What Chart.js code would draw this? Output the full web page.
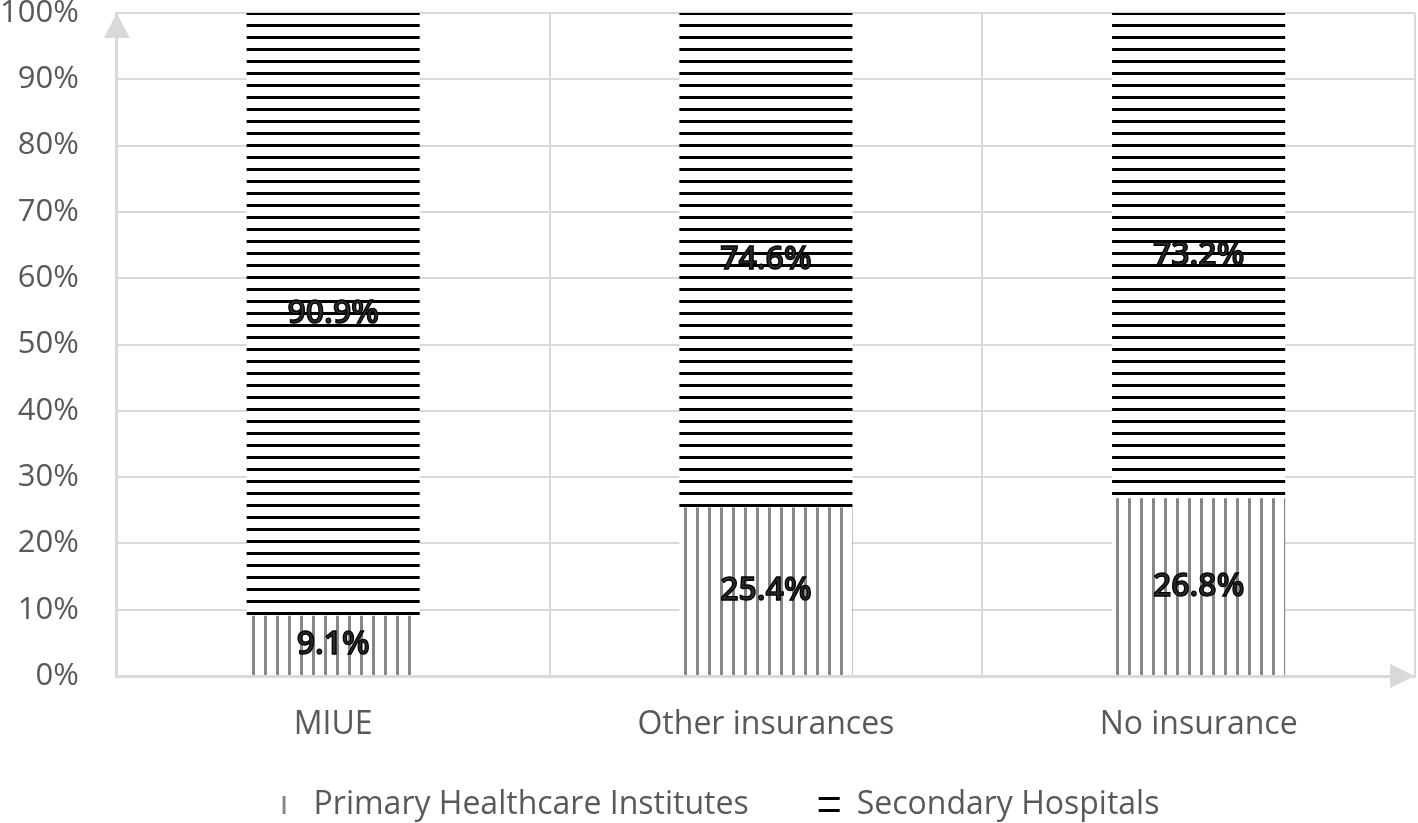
<!DOCTYPE html>
<html>
<head>
<meta charset="utf-8">
<script src="https://cdn.jsdelivr.net/npm/chart.js@4/dist/chart.umd.min.js"></script>
<style>
    html, body { margin: 0; padding: 0; background: #fff; }
    #wrap { width: 1418px; height: 823px; }
</style>
</head>
<body>
<div id="wrap"><canvas id="chart"></canvas></div>
<script>
const categories = ['MIUE', 'Other insurances', 'No insurance'];
const primaryValues = [9.1, 25.4, 26.8];
const secondaryValues = [90.9, 74.6, 73.2];
const yTicks = [0, 10, 20, 30, 40, 50, 60, 70, 80, 90, 100];

const FONT = '"Open Sans", "Noto Sans", sans-serif';
const GRID = '#d9d9d9';
const TEXT = '#595959';
const MARK_W = 42;

// pattern tiles
function makeTile(w, h, draw) {
    const c = document.createElement('canvas');
    c.width = w;
    c.height = h;
    const g = c.getContext('2d');
    g.fillStyle = '#fff';
    g.fillRect(0, 0, w, h);
    draw(g);
    return c;
}

const ctx = document.getElementById('chart').getContext('2d');

const vertTile = makeTile(12, 12, g => {
    g.fillStyle = '#878787';
    g.fillRect(0, 0, 3, 12);
});
const horzTile = makeTile(12, 12, g => {
    g.fillStyle = '#000';
    g.fillRect(0, 0, 12, 3);
});
const primaryFill = ctx.createPattern(vertTile, 'repeat');
const secondaryFill = ctx.createPattern(horzTile, 'repeat');

// legend markers (transparent canvases, mark near the right side)
function makeMark(draw) {
    const c = document.createElement('canvas');
    c.width = MARK_W;
    c.height = 18;
    draw(c.getContext('2d'));
    return c;
}
const markers = [
    makeMark(g => { g.fillStyle = '#878787'; g.fillRect(27, 0, 3, 18); }),
    makeMark(g => { g.fillStyle = '#000'; g.fillRect(20, 1, 21, 3); g.fillRect(20, 13, 21, 3); })
];

// axis arrows
const arrowPlugin = {
    id: 'arrows',
    afterDraw(chart) {
        const a = chart.chartArea;
        const c = chart.ctx;
        c.save();
        c.fillStyle = GRID;
        c.beginPath();
        c.moveTo(a.left, a.top);
        c.lineTo(a.left - 13, a.top + 25);
        c.lineTo(a.left + 13, a.top + 25);
        c.closePath();
        c.fill();
        c.beginPath();
        c.moveTo(a.right, a.bottom);
        c.lineTo(a.right - 25, a.bottom - 12);
        c.lineTo(a.right - 25, a.bottom + 12);
        c.closePath();
        c.fill();
        c.restore();
    }
};

// value labels in the middle of each segment
const valueLabels = {
    id: 'valueLabels',
    afterDatasetsDraw(chart) {
        const c = chart.ctx;
        c.save();
        c.font = '600 32px ' + FONT;
        c.textAlign = 'center';
        c.textBaseline = 'middle';
        c.lineWidth = 1.3;
        c.strokeStyle = '#000';
        c.fillStyle = '#2a2a2a';
        chart.data.datasets.forEach((ds, i) => {
            chart.getDatasetMeta(i).data.forEach((bar, j) => {
                const txt = ds.data[j].toFixed(1) + '%';
                const y = (bar.y + bar.base) / 2;
                c.fillText(txt, bar.x, y);
                c.strokeText(txt, bar.x, y);
            });
        });
        c.restore();
    }
};

new Chart(ctx, {
    type: 'bar',
    data: {
        labels: categories,
        datasets: [
            {
                label: 'Primary Healthcare Institutes',
                data: primaryValues,
                backgroundColor: primaryFill,
                borderWidth: 0,
                categoryPercentage: 1,
                barPercentage: 0.4
            },
            {
                label: 'Secondary Hospitals',
                data: secondaryValues,
                backgroundColor: secondaryFill,
                borderWidth: 0,
                categoryPercentage: 1,
                barPercentage: 0.4
            }
        ]
    },
    options: {
        responsive: true,
        maintainAspectRatio: false,
        animation: false,
        layout: {
            padding: { left: 0, right: 3, top: 13, bottom: -8 }
        },
        plugins: {
            tooltip: { enabled: false },
            legend: {
                position: 'bottom',
                labels: {
                    usePointStyle: true,
                    pointStyleWidth: MARK_W,
                    color: TEXT,
                    padding: 50,
                    font: { family: FONT, size: 32 },
                    generateLabels(chart) {
                        const items = Chart.defaults.plugins.legend.labels.generateLabels(chart);
                        items.forEach((it, i) => { it.pointStyle = markers[i]; });
                        return items;
                    }
                }
            }
        },
        scales: {
            x: {
                stacked: true,
                afterFit(scale) {
                    scale.height = 63;
                },
                grid: { color: GRID, lineWidth: 2, drawTicks: false },
                border: { color: GRID, width: 3 },
                ticks: {
                    color: TEXT,
                    padding: 30,
                    font: { family: FONT, size: 32 }
                }
            },
            y: {
                stacked: true,
                min: 0,
                max: 100,
                afterBuildTicks(scale) {
                    scale.ticks = yTicks.map(v => ({ value: v }));
                },
                afterFit(scale) {
                    scale.paddingTop = 0;
                    scale.paddingBottom = 0;
                    scale.width -= scale.options.ticks.padding;
                },
                grid: { color: GRID, lineWidth: 2, drawTicks: false },
                border: { color: GRID, width: 3 },
                ticks: {
                    color: TEXT,
                    padding: 38,
                    font: { family: FONT, size: 31 },
                    callback: v => v + '%'
                }
            }
        }
    },
    plugins: [valueLabels, arrowPlugin]
});
</script>
</body>
</html>
